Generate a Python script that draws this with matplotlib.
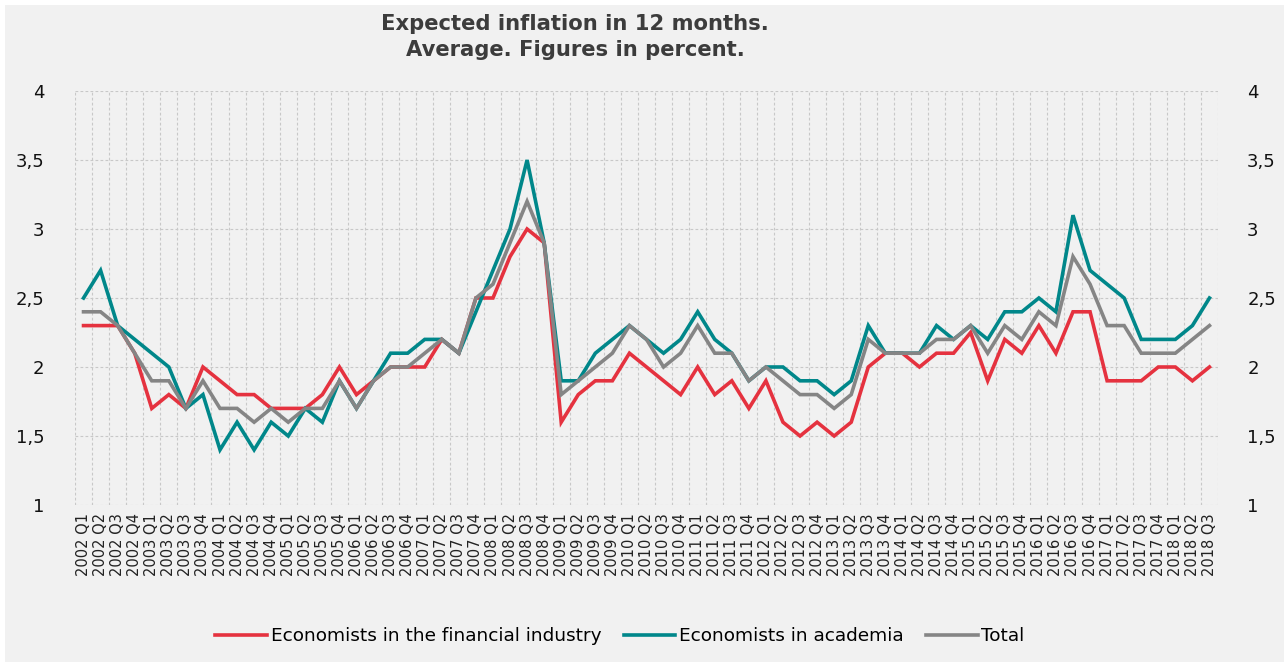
import matplotlib
matplotlib.use('Agg')
import matplotlib.pyplot as plt
from matplotlib.patches import Rectangle
from matplotlib.ticker import FuncFormatter

years = range(2002, 2019)
quarters = [f'{y} Q{q}' for y in years for q in range(1, 5)][:67]  # up to 2018 Q3

financial = [2.3, 2.3, 2.3, 2.1, 1.7, 1.8, 1.7, 2.0, 1.9, 1.8, 1.8, 1.7,
             1.7, 1.7, 1.8, 2.0, 1.8, 1.9, 2.0, 2.0, 2.0, 2.2, 2.1, 2.5,
             2.5, 2.8, 3.0, 2.9, 1.6, 1.8, 1.9, 1.9, 2.1, 2.0, 1.9, 1.8,
             2.0, 1.8, 1.9, 1.7, 1.9, 1.6, 1.5, 1.6, 1.5, 1.6, 2.0, 2.1,
             2.1, 2.0, 2.1, 2.1, 2.25, 1.9, 2.2, 2.1, 2.3, 2.1, 2.4, 2.4,
             1.9, 1.9, 1.9, 2.0, 2.0, 1.9, 2.0]
academia = [2.5, 2.7, 2.3, 2.2, 2.1, 2.0, 1.7, 1.8, 1.4, 1.6, 1.4, 1.6,
            1.5, 1.7, 1.6, 1.9, 1.7, 1.9, 2.1, 2.1, 2.2, 2.2, 2.1, 2.4,
            2.7, 3.0, 3.5, 2.9, 1.9, 1.9, 2.1, 2.2, 2.3, 2.2, 2.1, 2.2,
            2.4, 2.2, 2.1, 1.9, 2.0, 2.0, 1.9, 1.9, 1.8, 1.9, 2.3, 2.1,
            2.1, 2.1, 2.3, 2.2, 2.3, 2.2, 2.4, 2.4, 2.5, 2.4, 3.1, 2.7,
            2.6, 2.5, 2.2, 2.2, 2.2, 2.3, 2.5]
total = [2.4, 2.4, 2.3, 2.1, 1.9, 1.9, 1.7, 1.9, 1.7, 1.7, 1.6, 1.7,
         1.6, 1.7, 1.7, 1.9, 1.7, 1.9, 2.0, 2.0, 2.1, 2.2, 2.1, 2.5,
         2.6, 2.9, 3.2, 2.9, 1.8, 1.9, 2.0, 2.1, 2.3, 2.2, 2.0, 2.1,
         2.3, 2.1, 2.1, 1.9, 2.0, 1.9, 1.8, 1.8, 1.7, 1.8, 2.2, 2.1,
         2.1, 2.1, 2.2, 2.2, 2.3, 2.1, 2.3, 2.2, 2.4, 2.3, 2.8, 2.6,
         2.3, 2.3, 2.1, 2.1, 2.1, 2.2, 2.3]

series = [
    ('Economists in the financial industry', financial, '#e5323f'),
    ('Economists in academia', academia, '#00878a'),
    ('Total', total, '#858585'),
]

plt.rcParams['font.family'] = ['DejaVu Sans']

fig = plt.figure(figsize=(12.84, 6.62), dpi=100, facecolor='white')
fig.patches.append(Rectangle((5 / 1284, 0), 1, 1 - 5 / 662, transform=fig.transFigure,
                             facecolor='#f1f1f1', edgecolor='none', zorder=-10))
ax = fig.add_axes([75 / 1284, 1 - 505 / 662, 1143 / 1284, 414 / 662])
ax.set_facecolor('none')

x = list(range(len(quarters)))
for name, vals, col in series:
    ax.plot(x, vals, color=col, lw=2.6, label=name, solid_joinstyle='miter', zorder=3)

ax.set_xlim(-0.5, len(quarters) - 0.5)
ax.set_ylim(1, 4)
ax.set_yticks([1, 1.5, 2, 2.5, 3, 3.5, 4])
fmt = FuncFormatter(lambda v, p: f'{v:g}'.replace('.', ','))
ax.yaxis.set_major_formatter(fmt)

# dashed grid: horizontal at ticks, vertical at category boundaries
grid_kw = dict(color='#c8c8c8', lw=0.8, ls=(0, (2.5, 2)), zorder=1)
for yv in [1, 1.5, 2, 2.5, 3, 3.5, 4]:
    ax.axhline(yv, **grid_kw)
for k in range(len(quarters) + 1):
    ax.axvline(k - 0.5, **grid_kw)
for s in ax.spines.values():
    s.set_visible(False)

ax.set_xticks(x)
ax.set_xticklabels(quarters, rotation=90, fontsize=10.5, color='#222222')
ax.tick_params(axis='x', length=0, pad=6)
ax.tick_params(axis='y', length=0, pad=22, labelsize=13, labelcolor='#111111')

ax2 = ax.twinx()
ax2.set_ylim(ax.get_ylim())
ax2.set_yticks(ax.get_yticks())
ax2.yaxis.set_major_formatter(fmt)
ax2.tick_params(axis='y', length=0, pad=21, labelsize=13, labelcolor='#111111')
for s in ax2.spines.values():
    s.set_visible(False)

fig.text(575 / 1284, 1 - 24 / 662, 'Expected inflation in 12 months.', ha='center', va='center',
         fontsize=15.2, fontweight='bold', color='#3c3c3c')
fig.text(575 / 1284, 1 - 50 / 662, 'Average. Figures in percent.', ha='center', va='center',
         fontsize=15.2, fontweight='bold', color='#3c3c3c')

fig.legend(loc='center', bbox_to_anchor=(620 / 1284, 1 - 636 / 662), ncol=3, frameon=False,
           fontsize=13.3, handlelength=2.8, handletextpad=0.2, columnspacing=1.2)

fig.savefig('out.png', dpi=100, facecolor=fig.get_facecolor())
